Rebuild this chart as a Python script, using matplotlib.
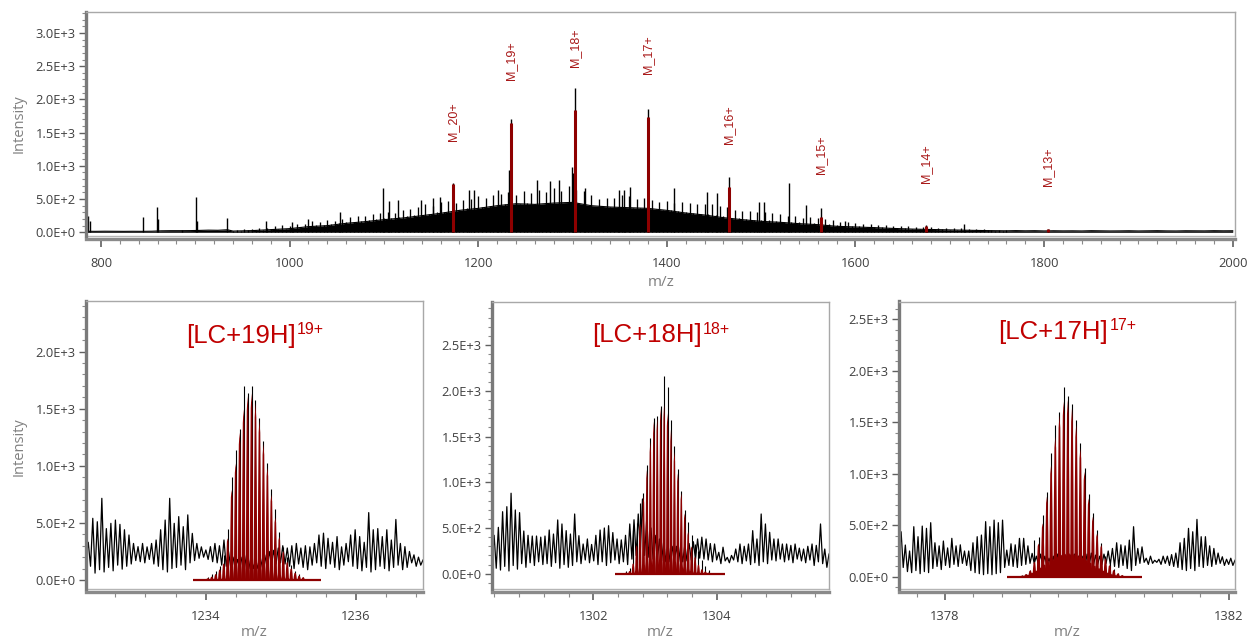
import numpy as np
import matplotlib
matplotlib.use("Agg")
import matplotlib.pyplot as plt
from matplotlib.ticker import MultipleLocator, FixedLocator, FuncFormatter
from matplotlib.collections import PolyCollection

plt.rcParams['font.family'] = ['Open Sans', 'DejaVu Sans']

# ======================= DATA =======================
# --- survey spectrum (top panel) ---
survey_low_int = [15, 14, 16, 15, 14, 15, 14, 16, 22, 24, 24, 25, 28, 32, 30, 38]          # 784..934 step 10
survey_floor_int = [18, 25, 40, 55, 85, 100, 135, 160, 190, 215,                          # 940..1760 step 20
                    250, 285, 330, 360, 400, 430, 420, 440, 450, 400,
                    380, 370, 360, 330, 290, 260, 220, 190, 165, 150,
                    130, 115, 90, 80, 70, 58, 48, 42, 36, 30,
                    25, 22]
survey_dense_int = [                                                                      # 940..1760 step 4
    20, 40, 22, 50, 28, 45, 30, 60, 35, 70,
    45, 95, 50, 110, 55, 100, 65, 130, 80, 120,
    100, 170, 105, 160, 110, 185, 120, 170, 140, 200,
    150, 230, 155, 250, 170, 240, 180, 270, 200, 290,
    210, 310, 220, 290, 230, 330, 240, 350, 260, 380,
    265, 420, 280, 400, 300, 450, 310, 470, 320, 440,
    340, 480, 360, 500, 380, 540, 380, 520, 390, 560,
    400, 580, 420, 600, 430, 560, 430, 620, 440, 590,
    420, 640, 400, 600, 410, 660, 420, 620, 430, 700,
    450, 640, 400, 620, 380, 560, 380, 500, 370, 520,
    380, 520, 380, 560, 370, 540, 360, 500, 370, 520,
    360, 480, 350, 460, 340, 470, 330, 440, 320, 450,
    300, 440, 290, 420, 280, 430, 270, 420, 260, 400,
    240, 380, 220, 340, 210, 320, 200, 320, 190, 300,
    185, 310, 180, 290, 170, 270, 160, 250, 155, 240,
    150, 220, 145, 230, 140, 210, 130, 200, 120, 190,
    105, 160, 100, 150, 95, 140, 90, 130, 85, 120,
    80, 115, 75, 110, 70, 100, 65, 95, 60, 90,
    55, 85, 50, 80, 48, 75, 45, 70, 42, 65,
    40, 62, 38, 58, 36, 55, 34, 50, 30, 45,
    28, 40, 26, 35, 25, 30]
survey_tail_int = [25, 22, 24, 20, 23, 21, 22, 20, 24, 22, 20, 21,
                   23, 20, 22, 24, 21, 20, 23, 22, 21, 24, 22, 23]                        # 1770..2000 step 10
survey_spike_mz = [784.5, 786.5, 788.6, 845.0, 858.9, 860.3, 885.8, 900.4, 901.8, 934.0,
                   974.5, 1002, 1019, 1053, 1098.5, 1105, 1114.5, 1139, 1152, 1159,
                   1190, 1195, 1221, 1232.5, 1262, 1276, 1286, 1299, 1301, 1313,
                   1349, 1355, 1361, 1408, 1443, 1453, 1498, 1503, 1530, 1547,
                   1589, 1715]
survey_spike_int = [350, 250, 170, 225, 375, 200, 40, 530, 170, 220,
                    170, 160, 195, 306, 660, 470, 480, 480, 510, 530,
                    630, 640, 640, 935, 785, 770, 780, 985, 890, 670,
                    630, 630, 680, 670, 610, 590, 460, 460, 745, 410,
                    175, 120]
ion_labels = ['M_20+', 'M_19+', 'M_18+', 'M_17+', 'M_16+', 'M_15+', 'M_14+', 'M_13+']
ion_mz = [1172.9, 1234.6, 1303.1, 1379.8, 1465.9, 1563.6, 1675.2, 1804.0]
ion_red_int = [720, 1640, 1840, 1730, 680, 230, 90, 45]
ion_black_int = [740, 1700, 2170, 1850, 830, 360, 110, 50]

# --- zoomed charge states (bottom panels) ---
zoom_title_main = ['[LC+19H]', '[LC+18H]', '[LC+17H]']
zoom_title_sup = ['19+', '18+', '17+']
zoom_charges = [19, 18, 17]

lc19_window = [1232.41, 1236.89]
lc19_noise_peak = [330, 540, 510, 715, 450, 496, 525, 487, 440, 394,
                   320, 292, 320, 290, 320, 350, 440, 525, 715, 496,
                   555, 467, 570, 408, 320, 290, 263, 292, 320,
                   300, 350, 250, 200, 180, 200, 220, 200, 180, 200, 220, 250, 260, 280, 300, 280,
                   300, 320, 280, 300, 290, 320, 394, 410, 365, 330,
                   380, 290, 320, 394, 440, 380, 330, 590, 440, 450,
                   380, 440, 350, 530, 320, 292, 250, 220, 200, 175]
lc19_noise_valley = [200, 120, 60, 90, 70, 110, 80, 130, 95, 120,
                     140, 170, 160, 150, 180, 140, 120, 90, 70, 100,
                     110, 130, 90, 150, 170, 190, 200, 180, 160,
                     150, 130, 120, 110, 100, 100, 100, 100, 100, 100, 110, 120, 130, 140, 150, 140,
                     120, 100, 140, 110, 90, 130, 150, 120, 100, 140,
                     110, 90, 130, 160, 120, 100, 80, 110, 70, 90,
                     120, 100, 80, 110, 130, 90, 110, 150, 120, 130]
lc19_iso_first = 1234.03
lc19_iso_red = [15, 29, 52, 93, 146, 365, 788, 1020, 1290, 1494, 1611, 1635, 1547,
                1401, 1191, 987, 747, 546, 380, 254, 160, 102, 64, 38, 23]
lc19_iso_black = [30, 50, 80, 120, 220, 450, 900, 1140, 1320, 1700, 1640, 1700, 1580,
                  1420, 1220, 1020, 800, 620, 420, 290, 200, 130, 80, 50, 30]
lc19_red_base = [1233.83, 1235.53]

lc18_window = [1300.36, 1305.82]
lc18_noise_peak = [420, 507, 678, 733, 880, 697, 668, 467, 420, 412,
                   412, 400, 412, 478, 434, 588, 544, 471, 434, 653,
                   416, 325, 380, 320, 420, 478, 500, 525, 450, 380,
                   370, 420, 544, 590, 653, 817,
                   600, 500, 420, 380, 350, 330, 300, 300, 300, 320, 330, 350, 380, 400, 380, 330,
                   325, 234, 290, 179, 200, 270, 325, 300, 325, 471,
                   380, 653, 544, 453, 380, 380, 325, 325, 310, 325,
                   280, 270, 300, 325, 310, 544, 270, 215]
lc18_noise_valley = [100, 60, 40, 80, 30, 90, 50, 110, 70, 120,
                     90, 130, 100, 110, 80, 120, 60, 100, 70, 90,
                     130, 110, 150, 120, 140, 100, 130, 90, 120, 150,
                     110, 130, 100, 160, 200, 250,
                     200, 180, 160, 150, 140, 130, 130, 130, 130, 130, 140, 150, 160, 170, 160, 150,
                     130, 150, 110, 140, 120, 150, 130, 110, 140, 100,
                     120, 90, 130, 110, 150, 140, 160, 130, 150, 120,
                     160, 140, 120, 150, 90, 130, 110, 70]
lc18_iso_first = 1302.48
lc18_iso_red = [5, 12, 30, 114, 314, 551, 846, 1134, 1445, 1664, 1700, 1809, 1846,
                1755, 1573, 1335, 1098, 880, 660, 460, 300, 186, 100, 50, 25, 12]
lc18_iso_black = [10, 25, 60, 480, 551, 770, 880, 1190, 1480, 1700, 1720, 1830, 2163,
                  2046, 1680, 1400, 1150, 900, 700, 560, 420, 330, 250, 150, 80, 40]
lc18_red_base = [1302.35, 1304.13]

lc17_window = [1377.35, 1382.09]
lc17_noise_peak = [437, 308, 250, 486, 389, 492, 470, 525, 330, 300,
                   347, 280, 373, 300, 310, 250, 250, 330, 389, 405,
                   535, 486, 550, 525, 550, 259, 320, 310, 373, 373,
                   300, 227,
                   200, 220, 200, 180, 200, 220, 200, 200, 210, 220, 200, 200, 220, 230, 210, 200, 220, 250,
                   275, 330, 310, 300, 356, 486, 275, 290, 180, 200,
                   160, 170, 200, 200, 215, 230, 330, 373, 470, 437,
                   557, 389, 389, 300, 275, 230, 194, 170, 180, 160]
lc17_noise_valley = [150, 90, 50, 40, 60, 30, 50, 40, 80, 100,
                     70, 110, 90, 120, 100, 130, 110, 60, 40, 30,
                     20, 30, 20, 30, 40, 90, 110, 100, 90, 110,
                     120, 130,
                     130, 120, 110, 110, 100, 100, 100, 100, 100, 100, 100, 100, 100, 110, 110, 120, 120, 130,
                     120, 100, 90, 110, 80, 60, 110, 130, 140, 120,
                     130, 140, 120, 130, 110, 100, 90, 70, 60, 80,
                     60, 100, 90, 110, 100, 120, 130, 110, 120, 110]
lc17_iso_first = 1379.083
lc17_iso_red = [10, 25, 60, 146, 324, 519, 778, 1086, 1361, 1571, 1701, 1717, 1636,
                1474, 1248, 1021, 762, 583, 421, 308, 178, 113, 65, 32, 15]
lc17_iso_black = [15, 30, 70, 357, 389, 600, 826, 1199, 1474, 1600, 1840, 1760, 1680,
                  1520, 1300, 1060, 800, 620, 450, 330, 200, 130, 75, 40, 20]
lc17_sub_first = 1379.11
lc17_sub_red = [10, 20, 40, 60, 90, 120, 150, 180, 200, 215, 225, 230,
                225, 210, 190, 165, 140, 110, 85, 60, 40, 25, 15]
lc17_red_base = [1378.87, 1380.78]

# ======================= STYLE =======================
RED_PEAK = '#8E0000'
RED_TITLE = '#C00000'
RED_LABEL = '#A81818'
TICK_TXT = '#404040'
AX_LABEL = '#808080'
W, H = 1247, 641
SANS = ['Liberation Sans', 'DejaVu Sans']

fig = plt.figure(figsize=(W / 100, H / 100), dpi=100)
renderer = fig.canvas.get_renderer()


def add_ax(l, t, r, b):
    return fig.add_axes([l / W, 1 - b / H, (r - l) / W, (b - t) / H])


def sci(v, pos):
    if abs(v) < 1e-9:
        return '0.0E+0'
    e = int(np.floor(np.log10(abs(v)) + 1e-9))
    return f'{v / 10 ** e:.1f}E+{e}'


def style(ax):
    for s in ['top', 'right']:
        ax.spines[s].set_color('#a8a8a8')
        ax.spines[s].set_linewidth(1.0)
    ax.spines['left'].set_color('#7a7a7a')
    ax.spines['left'].set_linewidth(2.4)
    ax.spines['bottom'].set_color('#8a8a8a')
    ax.spines['bottom'].set_linewidth(2.4)
    ax.spines['bottom'].set_position(('outward', 2))
    ax.plot([0, 1], [0, 0], transform=ax.transAxes, color='#b5b5b5', lw=1.0, clip_on=False)
    ax.yaxis.set_major_locator(MultipleLocator(500))
    ax.yaxis.set_minor_locator(MultipleLocator(100))
    ax.yaxis.set_major_formatter(FuncFormatter(sci))
    ax.tick_params(axis='y', which='major', length=5, width=1.0, color='#606060',
                   labelsize=9.3, labelcolor=TICK_TXT, pad=2.5)
    ax.tick_params(axis='y', which='minor', length=3, width=0.8, color='#8a8a8a')
    ax.tick_params(axis='x', which='major', length=6, width=1.2, color='#606060',
                   labelsize=9.3, labelcolor=TICK_TXT, pad=7)
    ax.tick_params(axis='x', which='minor', length=3.5, width=0.8, color='#8a8a8a')


# isotope peak outline (offsets in isotope spacings, relative heights)
SHAPE_DX = [-0.60, -0.42, -0.33, -0.20, 0.0, 0.20, 0.33, 0.42, 0.60]
SHAPE_FY = [0.0, 0.12, 0.55, 0.92, 1.0, 0.92, 0.55, 0.12, 0.0]


def iso_polys(first, charge, heights):
    d = 1.00235 / charge
    polys = []
    for i, h in enumerate(heights):
        c = first + i * d
        polys.append([(c + dx * d, fy * h) for dx, fy in zip(SHAPE_DX, SHAPE_FY)])
    return polys


# ======================= TOP PANEL =======================
ax0 = add_ax(86, 12, 1235, 236)
mz_low = np.arange(784, 935, 10)
mz_floor = np.arange(940, 1761, 20)
mz_dense = np.arange(940, 1761, 4)
mz_tail = np.arange(1770, 2001, 10)
base_mz = np.concatenate([mz_low, mz_floor, mz_tail])
base_int = np.concatenate([survey_low_int, survey_floor_int, survey_tail_int])
ax0.fill_between(base_mz, 0, base_int, color='black', lw=0, zorder=1)
ax0.plot(base_mz, base_int, color='black', lw=0.8, zorder=1.2)
ax0.vlines(mz_dense, 0, survey_dense_int, color='black', lw=0.95, zorder=1.5)
ax0.vlines(survey_spike_mz, 0, survey_spike_int, color='black', lw=1.0, zorder=1.5)
ax0.vlines(ion_mz, 0, ion_black_int, color='black', lw=1.0, zorder=1.6)
ax0.vlines(ion_mz, 0, ion_red_int, color=RED_PEAK, lw=2.2, zorder=2)
for lab, x, h in zip(ion_labels, ion_mz, ion_red_int):
    ax0.annotate(lab, xy=(x, h), xytext=(0, 31), textcoords='offset points',
                 rotation=90, ha='center', va='bottom', color=RED_LABEL,
                 fontsize=9, family=SANS)
ax0.set_xlim(784.1, 2002.4)
ax0.set_ylim(-56, 3316)
style(ax0)
ax0.xaxis.set_major_locator(MultipleLocator(200))
ax0.xaxis.set_minor_locator(MultipleLocator(20))
fig.text(19 / W, 1 - 124 / H, 'Intensity', rotation=90, ha='center', va='center',
         color=AX_LABEL, fontsize=10.5)
fig.text(661 / W, 1 - 282 / H, 'm/z', ha='center', va='center', color=AX_LABEL, fontsize=11)

# ======================= BOTTOM PANELS =======================
panels = [
    dict(box=(86, 301, 423, 589), ylim=(-79, 2443), win=lc19_window,
         peak=lc19_noise_peak, valley=lc19_noise_valley, first=lc19_iso_first,
         red=lc19_iso_red, black=lc19_iso_black, base=lc19_red_base,
         xmaj=MultipleLocator(2), title_base=343, sub=None),
    dict(box=(492, 301.5, 829, 589), ylim=(-167, 2976), win=lc18_window,
         peak=lc18_noise_peak, valley=lc18_noise_valley, first=lc18_iso_first,
         red=lc18_iso_red, black=lc18_iso_black, base=lc18_red_base,
         xmaj=MultipleLocator(2), title_base=342, sub=None),
    dict(box=(899, 301.5, 1235, 589), ylim=(-119, 2673), win=lc17_window,
         peak=lc17_noise_peak, valley=lc17_noise_valley, first=lc17_iso_first,
         red=lc17_iso_red, black=lc17_iso_black, base=lc17_red_base,
         xmaj=FixedLocator([1378, 1382]), title_base=339, sub=(lc17_sub_first, lc17_sub_red)),
]

for k, p in enumerate(panels):
    ax = add_ax(*p['box'])
    noise = np.column_stack([p['valley'], p['peak']]).ravel()
    x = np.linspace(p['win'][0], p['win'][1], len(noise))
    ax.plot(x, noise, color='black', lw=0.9, zorder=1)
    z = zoom_charges[k]
    d = 1.00235 / z
    iso_x = [p['first'] + i * d for i in range(len(p['black']))]
    ax.vlines(iso_x, 0, p['black'], color='black', lw=0.8, zorder=1.5)
    if p['sub'] is not None:
        ax.add_collection(PolyCollection(iso_polys(p['sub'][0], z, p['sub'][1]),
                                         facecolors=RED_PEAK, edgecolors='none', zorder=3))
    ax.add_collection(PolyCollection(iso_polys(p['first'], z, p['red']),
                                     facecolors=RED_PEAK, edgecolors='none', zorder=3))
    ax.plot(p['base'], [0, 0], color=RED_PEAK, lw=1.6, solid_capstyle='butt', zorder=3.1)
    ax.set_xlim(*p['win'])
    ax.set_ylim(*p['ylim'])
    style(ax)
    ax.xaxis.set_major_locator(p['xmaj'])
    ax.xaxis.set_major_formatter(FuncFormatter(lambda v, pos: f'{v:.0f}'))
    ax.xaxis.set_minor_locator(MultipleLocator(0.4))

    # title: main text + superscript, centred on the axes
    l, t, r, b = p['box']
    tm = fig.text(0, 0, zoom_title_main[k], fontsize=18.5, family=SANS, color=RED_TITLE)
    ts = fig.text(0, 0, zoom_title_sup[k], fontsize=11.5, family=SANS, color=RED_TITLE)
    wm = tm.get_window_extent(renderer).width
    ws = ts.get_window_extent(renderer).width
    x0 = (l + r) / 2 - (wm + ws) / 2
    tm.set_position((x0 / W, 1 - p['title_base'] / H))
    tm.set_va('baseline')
    ts.set_position(((x0 + wm + 1) / W, 1 - (p['title_base'] - 8.5) / H))
    ts.set_va('baseline')

    fig.text((l + r) / 2 / W, 1 - 632 / H, 'm/z', ha='center', va='center',
             color=AX_LABEL, fontsize=11)

fig.text(19 / W, 1 - 447 / H, 'Intensity', rotation=90, ha='center', va='center',
         color=AX_LABEL, fontsize=10.5)

fig.savefig('out.png', dpi=100, facecolor='white')
